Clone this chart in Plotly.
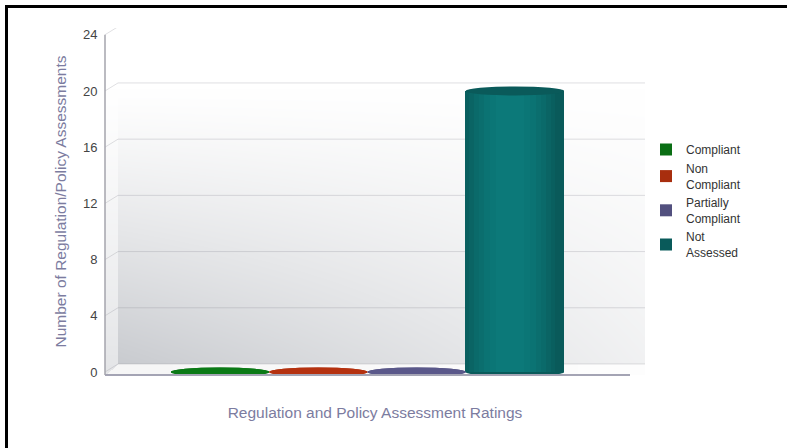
import base64
import struct
import zlib

import plotly.graph_objects as go

# data
categories = ["Compliant", "Non Compliant", "Partially Compliant", "Not Assessed"]
legend_labels = ["Compliant", "Non<br>Compliant", "Partially<br>Compliant", "Not<br>Assessed"]
assessment_counts = [0, 0, 0, 20]
y_ticks = [0, 4, 8, 12, 16, 20, 24]

# styles
edge_colors = ["#0a6e14", "#a82e0e", "#52507e", "#095a5a"]
cap_colors = ["#0b7a16", "#b53210", "#5a588a", "#0a5a5a"]
FONT = "Liberation Sans, Arial, sans-serif"

W, H = 787, 448
ML, MR, MT, MB = 105, 142, 28, 73
PW, PH = W - ML - MR, H - MT - MB
DEPTH_X, DEPTH_Y = 13, 8
Y_RANGE = [-0.214, 24.48]
X_RANGE = [-1.17, 4.323]


def px_x(p):
    return (p - ML) / PW


def px_y(p):
    return (H - MB - p) / PH


def scale(hex_color, k):
    h = hex_color.lstrip("#")
    rgb = [min(255, int(int(h[i:i + 2], 16) * k)) for i in (0, 2, 4)]
    return "#%02x%02x%02x" % tuple(rgb)


def wall_png(w, h):
    # soft grey back wall, like the old 3D chart styles
    floor_y = h - 3 - DEPTH_Y
    raw = bytearray()
    for y in range(h):
        raw.append(0)
        yn = y / floor_y
        t = max(0.0, (yn - 0.18) / 0.82) ** 1.15
        for x in range(w):
            floor_edge = floor_y + (DEPTH_X - x) * (h - floor_y) / DEPTH_X if x < DEPTH_X else floor_y
            if y >= floor_edge:
                v = 246 + 8 * x / w
                raw += bytes((int(v), int(v), int(v)))
                continue
            if x < DEPTH_X:
                d = 26 * t
            else:
                xn = (x - DEPTH_X) / (w - DEPTH_X)
                d = 54 * t * (1 - 0.74 * xn)
            raw += bytes((int(255 - d), int(255 - d * 0.96), int(255 - d * 0.88)))

    def chunk(tag, data):
        c = struct.pack(">I", len(data)) + tag + data
        return c + struct.pack(">I", zlib.crc32(tag + data) & 0xFFFFFFFF)

    png = b"\x89PNG\r\n\x1a\n"
    png += chunk(b"IHDR", struct.pack(">IIBBBBB", w, h, 8, 2, 0, 0, 0))
    png += chunk(b"IDAT", zlib.compress(bytes(raw), 9))
    png += chunk(b"IEND", b"")
    return "data:image/png;base64," + base64.b64encode(png).decode()


fig = go.Figure()

shades = [(0.92, 1.06), (0.84, 1.12), (0.74, 1.18), (0.64, 1.23), (0.52, 1.28), (0.40, 1.32), (0.28, 1.35)]

for i, (cat, label, val) in enumerate(zip(categories, legend_labels, assessment_counts)):
    fig.add_trace(
        go.Bar(
            x=[cat],
            y=[val],
            name=label,
            width=1.0,
            marker=dict(color=edge_colors[i], line=dict(width=0)),
            hoverinfo="x+y",
        )
    )
    # cylinder shading
    for w, k in shades:
        fig.add_trace(
            go.Bar(
                x=[cat],
                y=[val],
                width=w,
                offset=-w / 2 - 0.05,
                marker=dict(color=scale(edge_colors[i], k), line=dict(width=0)),
                showlegend=False,
                hoverinfo="skip",
            )
        )

shapes = []
# back wall grid lines with the small 3D corner
for v in y_ticks:
    shapes.append(dict(
        type="line", layer="below", xref="paper", x0=px_x(ML + DEPTH_X), x1=1,
        yref="y", ysizemode="pixel", yanchor=v, y0=DEPTH_Y, y1=DEPTH_Y,
        line=dict(color="rgba(140,140,152,0.28)", width=1),
    ))
    shapes.append(dict(
        type="line", layer="below", xref="paper", xsizemode="pixel", xanchor=0, x0=0, x1=DEPTH_X,
        yref="y", ysizemode="pixel", yanchor=v, y0=0, y1=DEPTH_Y,
        line=dict(color="rgba(140,140,152,0.28)", width=1),
    ))

# cylinder ends
for i, val in enumerate(assessment_counts):
    shapes.append(dict(
        type="circle", layer="below", xref="x", x0=i - 0.5, x1=i + 0.5,
        yref="y", ysizemode="pixel", yanchor=0, y0=-4.5, y1=4.5,
        fillcolor=edge_colors[i], line=dict(width=0),
    ))
    shapes.append(dict(
        type="circle", xref="x", x0=i - 0.5, x1=i + 0.5,
        yref="y", ysizemode="pixel", yanchor=val, y0=-4.5, y1=4.5,
        fillcolor=cap_colors[i], line=dict(width=0),
    ))

# axis lines
shapes.append(dict(type="line", xref="paper", x0=0, x1=px_x(630), yref="paper", y0=0, y1=0,
                   line=dict(color="#a4a4b4", width=2)))
shapes.append(dict(type="line", xref="paper", x0=0, x1=0, yref="y", y0=Y_RANGE[0], y1=y_ticks[-1],
                   line=dict(color="#a4a4ac", width=1.5)))

# frame (top and left only)
shapes.append(dict(type="line", xref="paper", x0=px_x(5), x1=px_x(W), yref="paper", y0=px_y(6.5), y1=px_y(6.5),
                   line=dict(color="black", width=3)))
shapes.append(dict(type="line", xref="paper", x0=px_x(6.5), x1=px_x(6.5), yref="paper", y0=px_y(5), y1=px_y(H),
                   line=dict(color="black", width=3)))

fig.update_layout(
    width=W,
    height=H,
    margin=dict(l=ML, r=MR, t=MT, b=MB),
    paper_bgcolor="white",
    plot_bgcolor="white",
    barmode="overlay",
    bargap=0,
    font=dict(family=FONT, color="#333333"),
    shapes=shapes,
    images=[dict(
        source=wall_png(PW, PH), xref="paper", yref="paper", x=0, y=1, sizex=1, sizey=1,
        xanchor="left", yanchor="top", sizing="stretch", layer="below",
    )],
    xaxis=dict(
        type="category",
        categoryorder="array",
        categoryarray=categories,
        range=X_RANGE,
        showticklabels=False,
        showgrid=False,
        zeroline=False,
        showline=False,
        automargin=False,
        title=dict(text="Regulation and Policy Assessment Ratings", standoff=32,
                   font=dict(family=FONT, size=15.5, color="#7c7ca0")),
    ),
    yaxis=dict(
        range=Y_RANGE,
        tickvals=y_ticks,
        ticks="outside",
        ticklen=4,
        tickcolor="rgba(0,0,0,0)",
        tickfont=dict(family=FONT, size=13, color="#444444"),
        showgrid=False,
        zeroline=False,
        showline=False,
        automargin=False,
        title=dict(text="Number of Regulation/Policy Assessments", standoff=12,
                   font=dict(family=FONT, size=15.5, color="#7c7ca0")),
    ),
    legend=dict(
        x=px_x(646),
        y=px_y(135),
        xanchor="left",
        yanchor="top",
        bgcolor="rgba(0,0,0,0)",
        font=dict(family=FONT, size=12, color="#333333"),
        itemwidth=30,
        tracegroupgap=0,
    ),
)

fig.write_html(
    "out.html",
    config={"displayModeBar": False},
    post_script=(
        "document.body.style.margin='0';"
        "document.body.style.overflow='hidden';"
        "document.documentElement.style.overflow='hidden';"
    ),
)
